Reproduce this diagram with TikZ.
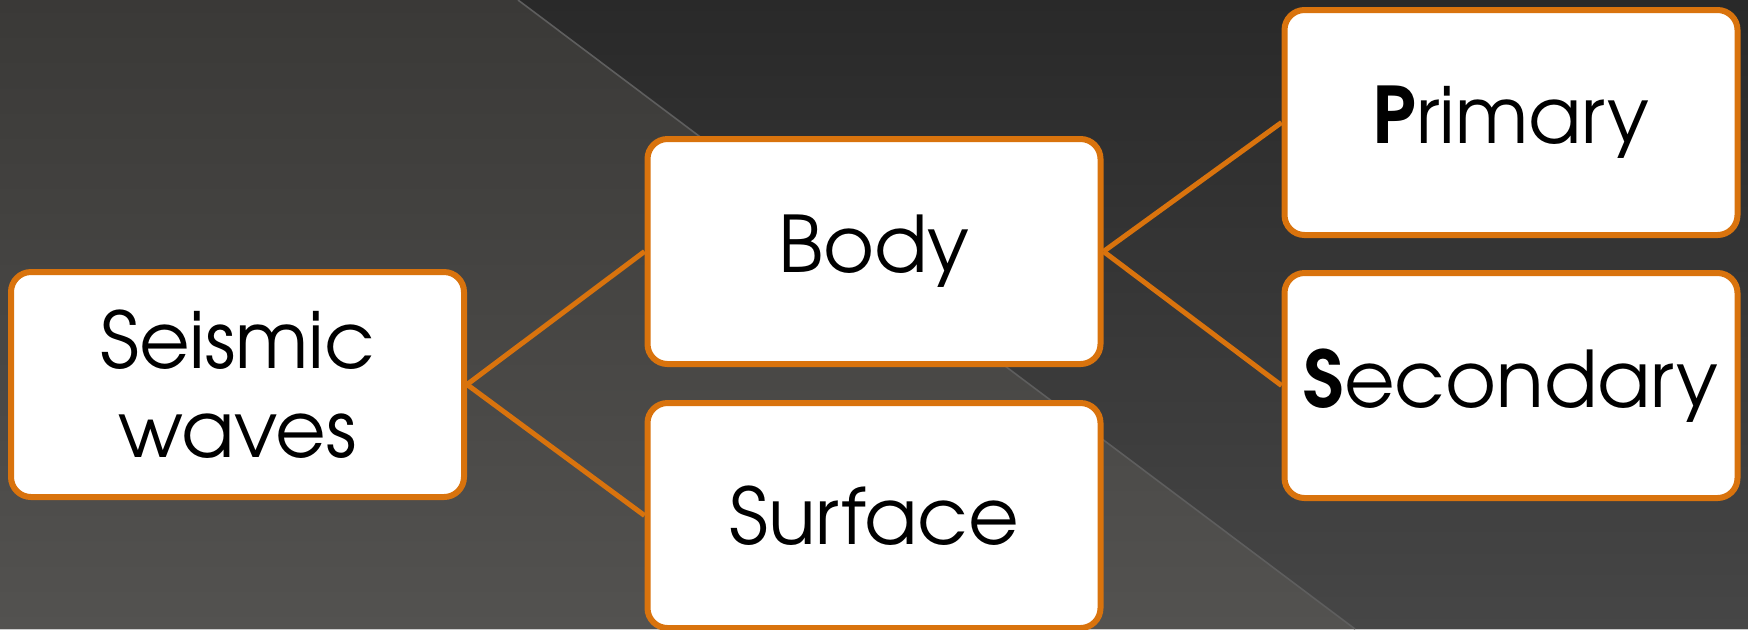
\documentclass[tikz,border=0pt]{standalone}
\usepackage{fontspec}
\setmainfont{TeX Gyre Adventor}
\definecolor{orng}{HTML}{D9730D}
\definecolor{bgLtop}{HTML}{3A3937}
\definecolor{bgLbot}{HTML}{535250}
\definecolor{bgRtop}{HTML}{292929}
\definecolor{bgRbot}{HTML}{464646}
\definecolor{diag}{HTML}{5E5E5E}
\begin{document}
\begin{tikzpicture}[x=0.5pt,y=-0.5pt,
  box/.style={draw=orng, line width=3pt, fill=white, rounded corners=10pt,
    minimum width=226.5pt, minimum height=112.5pt, inner sep=0pt, align=center,
    font=\fontsize{39}{44.6}\selectfont, text=black},
  link/.style={draw=orng, line width=2.5pt}]
\useasboundingbox (0,0) rectangle (1748,629);
\clip (0,0) rectangle (1748,629);
\fill[top color=bgLtop, bottom color=bgLbot] (0,0) -- (518,0) -- (1355,629) -- (0,629) -- cycle;
\fill[top color=bgRtop, bottom color=bgRbot] (518,0) -- (1748,0) -- (1748,629) -- (1355,629) -- cycle;
\coordinate (d1) at (518,0);
\coordinate (d2) at (1355,629);
\draw[diag, line width=0.8pt] (d1) -- (d2);
\node[box] (seis) at (237.5,384.5) {Seismic\\waves};
\node[box] (body) at (874,251.5) {Body};
\node[box] (surf) at (874,515.5) {Surface};
\node[box] (prim) at (1511,122.5) {{\bfseries P}rimary};
\node[box] (sec) at (1511,385.5) {{\bfseries S}econdary};
\draw[link] (seis.east) -- (body.west);
\draw[link] (seis.east) -- (surf.west);
\draw[link] (body.east) -- (prim.west);
\draw[link] (body.east) -- (sec.west);
\end{tikzpicture}
\end{document}
